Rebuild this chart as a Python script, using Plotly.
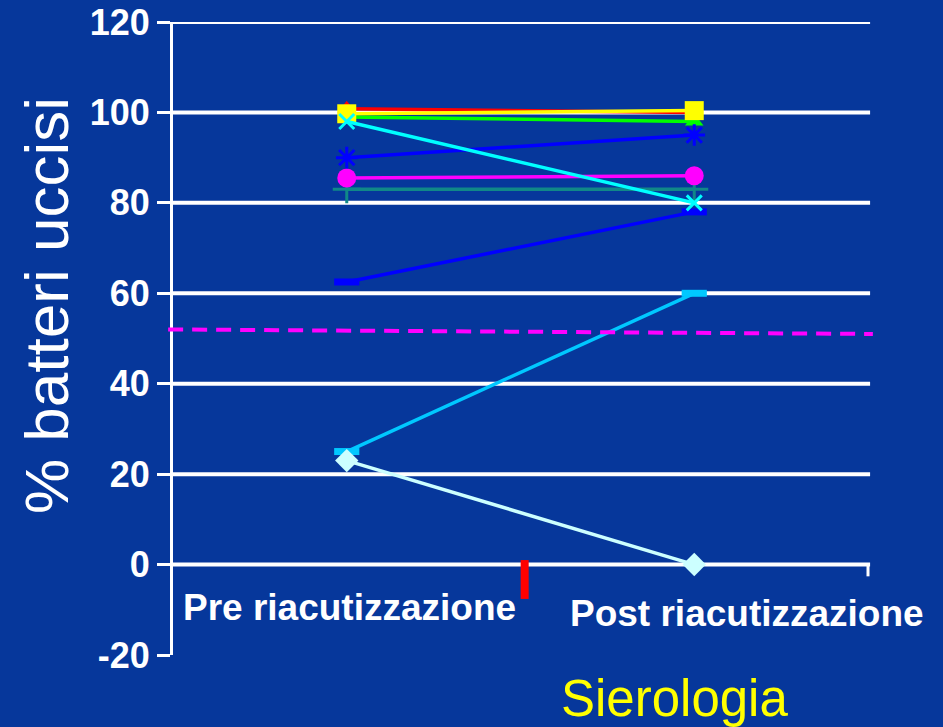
import plotly.graph_objects as go

categories = ["Pre riacutizzazione", "Post riacutizzazione"]

# series values (pre, post)
green_vals = [99.0, 98.0]
red_vals = [100.8, 100.0]
yellow_vals = [99.7, 100.4]
cyan_x_vals = [98.0, 80.0]
blue_ast_vals = [90.0, 95.0]
magenta_vals = [85.5, 86.0]
teal_vals = [83.0, 83.0]
blue_dash_vals = [62.5, 78.0]
sky_dash_vals = [25.0, 60.0]
diamond_vals = [23.0, 0.0]
threshold_vals = [52.0, 51.0]

y_ticks = [-20, 0, 20, 40, 60, 80, 100, 120]
grid_vals = [0, 20, 40, 60, 80, 100, 120]

BG = "#06379b"
FONT = "Liberation Sans, Arial, sans-serif"

fig = go.Figure()

def add(vals, color, symbol, size, lw=3.5, mlw=0, mcolor=None):
    fig.add_trace(go.Scatter(
        x=[0, 1], y=vals, mode="lines+markers",
        line=dict(color=color, width=lw),
        marker=dict(symbol=symbol, size=size, color=mcolor or color,
                    line=dict(color=mcolor or color, width=mlw)),
        showlegend=False, cliponaxis=False))

add(green_vals, "#00ff00", "triangle-up", 16)
add(red_vals, "#ff0000", "triangle-up", 16)
add(yellow_vals, "#ffff00", "square", 19)
add(teal_vals, "#108888", "cross-thin-open", 20, mlw=3)
add(magenta_vals, "#ff00ff", "circle", 19)
add(blue_ast_vals, "#0000ff", "asterisk-open", 18, mlw=3)
add(blue_dash_vals, "#0000ff", "line-ew-open", 18, mlw=7)
add(cyan_x_vals, "#00ffff", "x-thin-open", 15, mlw=3)
add(sky_dash_vals, "#00c8ff", "line-ew-open", 18, mlw=7)
add(diamond_vals, "#ccffff", "diamond", 18)

shapes = []
for g in grid_vals:
    shapes.append(dict(type="line", xref="paper", yref="y", x0=0, x1=1.003,
                       y0=g, y1=g, line=dict(color="white", width=4), layer="below"))
# right end tick on the category axis
shapes.append(dict(type="line", xref="paper", yref="y", x0=1, x1=1, y0=0, y1=-2.6,
                   line=dict(color="white", width=3)))
# red tick between categories
shapes.append(dict(type="line", xref="paper", yref="y", x0=0.506, x1=0.506, y0=1, y1=-7.6,
                   line=dict(color="#ff0000", width=8)))
# threshold dashed line
shapes.append(dict(type="line", xref="paper", yref="y", x0=-0.007, x1=1.007,
                   y0=threshold_vals[0], y1=threshold_vals[1],
                   line=dict(color="#ff00ff", width=4, dash="15px,9px")))

annotations = [
    dict(text="<b>" + categories[0] + "</b>", xref="paper", yref="paper",
         x=(349 - 173) / 695, y=(655 - 607) / 633, xanchor="center", yanchor="middle",
         showarrow=False, font=dict(family=FONT, size=37, color="white")),
    dict(text="<b>" + categories[1] + "</b>", xref="paper", yref="paper",
         x=(747 - 173) / 695, y=(655 - 613) / 633, xanchor="center", yanchor="middle",
         showarrow=False, font=dict(family=FONT, size=37, color="white")),
    dict(text="% batteri uccisi", xref="paper", yref="paper",
         x=(46 - 173) / 695, y=(655 - 306) / 633, xanchor="center", yanchor="middle",
         textangle=-90, showarrow=False, font=dict(family=FONT, size=62, color="white")),
    dict(text="Sierologia", xref="paper", yref="paper",
         x=(674 - 173) / 695, y=(655 - 698) / 633, xanchor="center", yanchor="middle",
         showarrow=False, font=dict(family=FONT, size=51, color="#ffff00")),
]

fig.update_layout(
    width=943, height=727,
    margin=dict(l=173, r=75, t=22, b=72),
    paper_bgcolor=BG, plot_bgcolor=BG,
    shapes=shapes, annotations=annotations,
    xaxis=dict(range=[-0.5, 1.5], showgrid=False, zeroline=False, showline=False,
               showticklabels=False, ticks=""),
    yaxis=dict(range=[-20, 120], tickvals=y_ticks, automargin=False,
               ticktext=["<b>%d</b>" % v for v in y_ticks],
               tickfont=dict(family=FONT, size=36, color="white"),
               showgrid=False, zeroline=False, showline=True, linecolor="white",
               linewidth=3, ticks="outside", ticklen=13, tickwidth=3, tickcolor="white"),
)

fig.write_html("out.html", config={"displayModeBar": False},
               post_script="document.body.style.margin='0';document.body.style.background='" + BG + "';")
